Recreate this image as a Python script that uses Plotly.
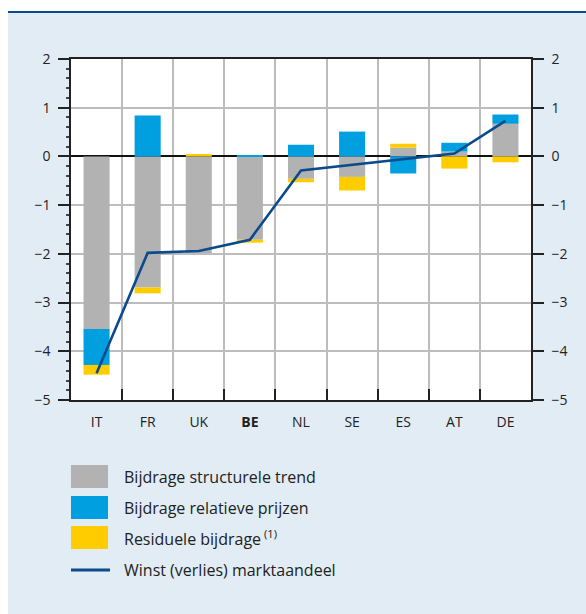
import plotly.graph_objects as go

# Countries and the decomposition of market-share change (percentage points)
countries = ["IT", "FR", "UK", "BE", "NL", "SE", "ES", "AT", "DE"]
country_labels = ["IT", "FR", "UK", "<b>BE</b>", "NL", "SE", "ES", "AT", "DE"]
structural_trend = [-3.54, -2.69, -1.98, -1.71, -0.46, -0.42, 0.18, 0.10, 0.67]
relative_prices = [-0.74, 0.84, 0.00, 0.03, 0.24, 0.51, -0.35, 0.18, 0.19]
residual = [-0.20, -0.12, 0.05, -0.06, -0.07, -0.28, 0.08, -0.25, -0.12]
market_share = [-4.45, -1.98, -1.94, -1.71, -0.29, -0.17, -0.06, 0.06, 0.73]

y_ticks = [2, 1, 0, -1, -2, -3, -4, -5]

GRAY = "#B2B2B2"
BLUE = "#009FE0"
YELLOW = "#FFCC00"
NAVY = "#0B4A8B"
PANEL = "#E1ECF4"
TEXT = "#222222"
FONT = "Open Sans"

W, H = 586, 614
L, R, T, B = 71, 55, 59, 214
plot_w = W - L - R
plot_h = H - T - B


def px_x(px):
    return (px - L) / plot_w


def px_y(py):
    return (H - B - py) / plot_h


fig = go.Figure()

for name, vals, col in [
    ("Bijdrage structurele trend", structural_trend, GRAY),
    ("Bijdrage relatieve prijzen", relative_prices, BLUE),
    ("Residuele bijdrage", residual, YELLOW),
]:
    fig.add_trace(go.Bar(x=countries, y=vals, name=name, marker_color=col,
                         marker_line_width=0, width=0.51, showlegend=False))

fig.add_trace(go.Scatter(x=countries, y=market_share, mode="lines",
                         line=dict(color=NAVY, width=2.6),
                         name="Winst (verlies) marktaandeel",
                         showlegend=False, yaxis="y2"))

tick_text = [str(v).replace("-", "\u2212") for v in y_ticks]

fig.update_layout(
    width=W, height=H,
    margin=dict(l=L, r=R, t=T, b=B),
    paper_bgcolor=PANEL,
    plot_bgcolor="white",
    barmode="relative",
    font=dict(family=FONT, size=14, color=TEXT),
    xaxis=dict(
        type="category",
        tickvals=countries, ticktext=country_labels,
        tickson="boundaries", ticks="inside", ticklen=11, tickwidth=1.5,
        tickcolor="#222222",
        showgrid=True, gridcolor="#BDBDBD", gridwidth=1.5,
        showline=True, linecolor="#222222", linewidth=1.5, mirror=True,
        ticklabelstandoff=8,
        tickfont=dict(size=14, color=TEXT),
    ),
    yaxis=dict(
        range=[-5, 2], tickvals=y_ticks, ticktext=tick_text,
        ticks="outside", ticklen=11, tickwidth=1.5, tickcolor="#222222",
        showgrid=True, gridcolor="#BDBDBD", gridwidth=1.5,
        zeroline=True, zerolinecolor="#111111", zerolinewidth=1.5,
        showline=True, linecolor="#222222", linewidth=1.5,
        minor=dict(dtick=0.2, ticks="outside", ticklen=3, tickcolor="#444444",
                   showgrid=False),
        ticklabelstandoff=5,
        tickfont=dict(size=14, color=TEXT),
    ),
    yaxis2=dict(
        range=[-5, 2], tickvals=y_ticks, ticktext=tick_text,
        overlaying="y", side="right", anchor="x",
        ticks="outside", ticklen=11, tickwidth=1.5, tickcolor="#222222",
        showgrid=False, zeroline=False,
        showline=True, linecolor="#222222", linewidth=1.5,
        ticklabelstandoff=5,
        tickfont=dict(size=14, color=TEXT),
    ),
)

shapes = [
    # white margin on the left and above the header rule
    dict(type="rect", xref="paper", yref="paper", x0=px_x(0), x1=px_x(8),
         y0=px_y(H), y1=px_y(0), fillcolor="white", line_width=0),
    dict(type="rect", xref="paper", yref="paper", x0=px_x(0), x1=px_x(W),
         y0=px_y(11), y1=px_y(0), fillcolor="white", line_width=0),
    # header rule
    dict(type="rect", xref="paper", yref="paper", x0=px_x(8), x1=px_x(W),
         y0=px_y(13), y1=px_y(11), fillcolor=NAVY, line_width=0),
]

legend_items = [
    ("Bijdrage structurele trend", GRAY, 476.5),
    ("Bijdrage relatieve prijzen", BLUE, 507.5),
    ("Residuele bijdrage<sup> (1)</sup>", YELLOW, 537.5),
]
annotations = []
for label, col, cy in legend_items:
    shapes.append(dict(type="rect", xref="paper", yref="paper",
                       x0=px_x(71), x1=px_x(108), y0=px_y(cy + 11.5),
                       y1=px_y(cy - 11.5), fillcolor=col, line_width=0))
    annotations.append(dict(text=label, xref="paper", yref="paper",
                            x=px_x(122), y=px_y(cy), xanchor="left",
                            yanchor="middle", showarrow=False,
                            font=dict(size=16, color=TEXT, family=FONT)))

shapes.append(dict(type="line", xref="paper", yref="paper",
                   x0=px_x(71), x1=px_x(110), y0=px_y(570), y1=px_y(570),
                   line=dict(color=NAVY, width=3)))
annotations.append(dict(text="Winst (verlies) marktaandeel", xref="paper",
                        yref="paper", x=px_x(122), y=px_y(570),
                        xanchor="left", yanchor="middle", showarrow=False,
                        font=dict(size=16, color=TEXT, family=FONT)))

fig.update_layout(shapes=shapes, annotations=annotations)

fig.write_html("out.html")
